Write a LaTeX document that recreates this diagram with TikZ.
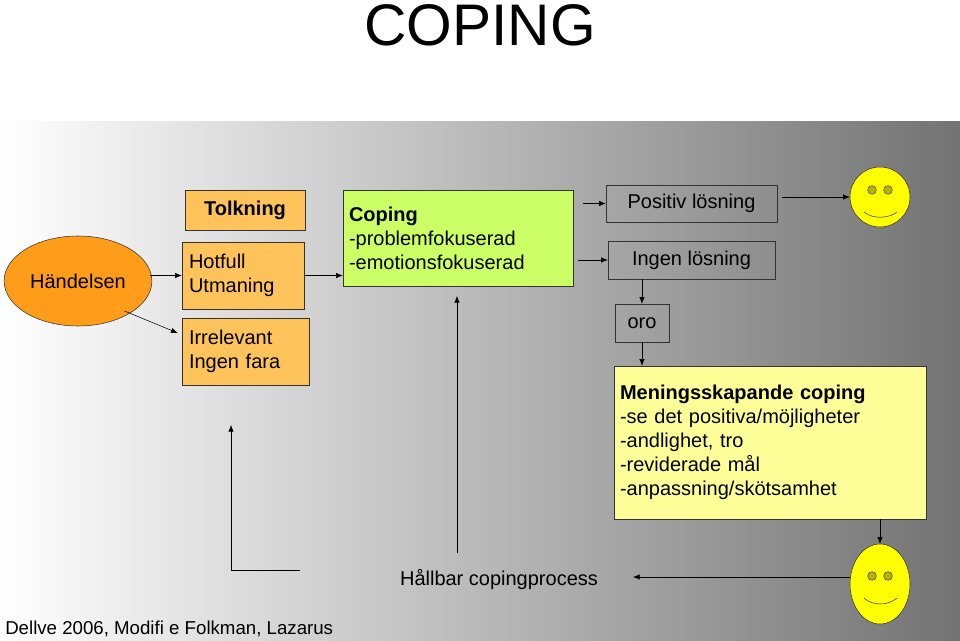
\documentclass[tikz,border=0pt]{standalone}
\usepackage{fontspec}
\setmainfont{Liberation Sans}
\usetikzlibrary{positioning,shapes.geometric,arrows.meta}
\definecolor{orangeDark}{HTML}{FF9C1A}
\definecolor{orangeLight}{HTML}{FFC35C}
\definecolor{copingGreen}{HTML}{CCFF66}
\definecolor{meningYellow}{HTML}{FFFF99}
\definecolor{smileYellow}{HTML}{FFFF00}
\tikzset{
  box/.style={draw=black!80, inner sep=0pt, align=left, font=\fontsize{15}{18}\selectfont},
  flow/.style={-{Latex[length=5pt,width=4pt]}, thin},
  smiley/.style={ellipse, draw=black!80, fill=smileYellow, inner sep=0pt}
}
\begin{document}
\begin{tikzpicture}[x=0.75pt,y=-0.75pt]
\useasboundingbox (0,0) rectangle (960,641);
\shade[left color=white, right color=black!55] (0,122) rectangle (960,641);
\node (title) at (480,25) {\fontsize{44}{48}\selectfont COPING};
% vanster sida
\node[ellipse, draw=black!80, fill=orangeDark, minimum width=136pt*0.75, minimum height=90pt*0.75,
  font=\fontsize{15}{18}\selectfont] (handelse) at (78,281) {Händelsen};
\node[box, fill=orangeLight, minimum width=120*0.75pt, minimum height=40*0.75pt, align=center,
  font=\fontsize{15}{18}\selectfont\bfseries] (tolkning) at (245,210) {Tolkning};
\node[box, fill=orangeLight, minimum width=122*0.75pt, minimum height=67*0.75pt, text width=108*0.75pt]
  (hotfull) at (243,275.5) {Hotfull\\Utmaning};
\node[box, fill=orangeLight, minimum width=127*0.75pt, minimum height=67*0.75pt, text width=113*0.75pt]
  (irrel) at (245.5,351.5) {Irrelevant\\Ingen fara};
\node[box, fill=copingGreen, minimum width=230*0.75pt, minimum height=96*0.75pt, text width=218*0.75pt]
  (coping) at (458,238) {\textbf{Coping}\\-problemfokuserad\\-emotionsfokuserad};
% hoger sida
\node[box, minimum width=171*0.75pt, minimum height=37*0.75pt, align=center] (positiv) at (691.5,203.5) {Positiv lösning};
\node[box, minimum width=167*0.75pt, minimum height=38*0.75pt, align=center] (ingen) at (691.5,260) {Ingen lösning};
\node[box, minimum width=54*0.75pt, minimum height=38*0.75pt, align=center] (oro) at (642,323) {oro};
\node[box, fill=meningYellow, minimum width=312*0.75pt, minimum height=153*0.75pt, text width=300*0.75pt]
  (mening) at (770,442.5) {\textbf{Meningsskapande coping}\\-se det positiva/möjligheter\\-andlighet, tro\\-reviderade mål\\-anpassning/skötsamhet};
\node[smiley, minimum width=60*0.75pt, minimum height=60*0.75pt] (glad) at (880,197) {};
\node[smiley, minimum width=60*0.75pt, minimum height=80*0.75pt] (glad2) at (880,584) {};
\foreach \s/\dy in {glad/-7, glad2/-8} {
  \draw[black!70, fill=smileYellow!70!black] ([xshift=-8*0.75pt, yshift=-\dy*0.75pt]\s.center) circle (3.3pt);
  \draw[black!70, fill=smileYellow!70!black] ([xshift=8*0.75pt, yshift=-\dy*0.75pt]\s.center) circle (3.3pt);
}
\draw[black!80] (864,212) .. controls (872,219) and (888,219) .. (897,212);
\draw[black!80] (864,598) .. controls (872,606) and (888,606) .. (897,598);
\node[font=\fontsize{15}{18}\selectfont] (hallbar) at (499,580) {Hållbar copingprocess};
\node[anchor=south west, inner sep=0pt, font=\fontsize{14}{17}\selectfont] (kalla) at (5,637) {Dellve 2006, Modifi e Folkman, Lazarus};
% pilar
\draw[flow] (handelse.east |- hotfull) ++(-2,0) coordinate (h1) -- (hotfull.west);
\draw[flow] (handelse.south east) ++(-6,-2) -- ([xshift=-4*0.75pt]irrel.west |- 0,333);
\draw[flow] (hotfull.east) -- (coping.west |- hotfull);
\draw[flow] ([xshift=10*0.75pt]coping.east |- positiv) -- (positiv.west);
\draw[flow] ([xshift=5*0.75pt]coping.east |- ingen) -- (ingen.west);
\draw[flow] (positiv.east |- glad) ++(5,0) -- (glad.west);
\draw[flow] (ingen.south -| oro) -- (oro.north);
\draw[flow] (oro.south) -- (mening.north -| oro);
\draw[flow] (mening.south -| glad2) -- (glad2.north);
\draw[flow] (glad2.west |- 0,577) coordinate (g2) -- (633,577) coordinate (h2);
\draw[flow] (457,553) coordinate (v1) -- (457,296);
\draw[flow] (300,570) coordinate (l1) -- (231,570) -- (231,425);
\end{tikzpicture}
\end{document}
